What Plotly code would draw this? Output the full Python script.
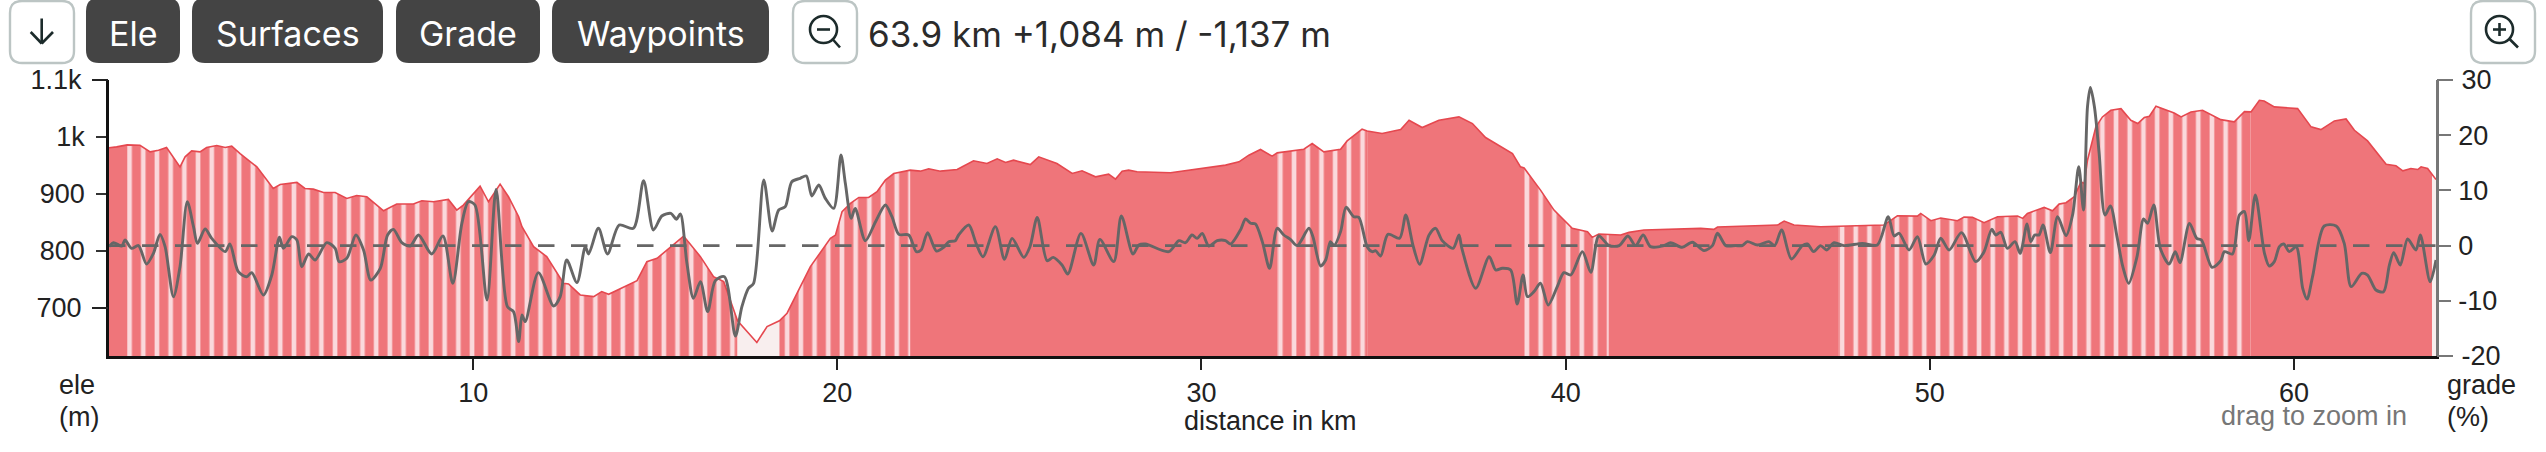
#!/usr/bin/env python3
"""Elevation profile with surface bands and grade line, route toolbar on top."""
import numpy as np
import plotly.graph_objects as go

FIG_W, FIG_H = 2546, 452
M_L, M_R, M_T, M_B = 109, 110, 80, 96

ELE_KM = [
    0, 0.21, 0.5, 0.85, 1.13, 1.36, 1.58, 1.72, 1.95, 2.09,
    2.27, 2.5, 2.68, 2.96, 3.19, 3.37, 3.6, 4.06, 4.33, 4.51,
    4.7, 5.16, 5.38, 5.61, 5.89, 6.21, 6.53, 6.8, 7.08, 7.54,
    7.9, 8.36, 8.59, 8.91, 9.32, 9.55, 9.73, 10.19, 10.42, 10.74,
    10.97, 11.25, 11.34, 11.66, 12.02, 12.48, 12.62, 12.94, 13.31, 13.53,
    13.72, 14.5, 14.77, 15.05, 15.78, 16.24, 16.6, 16.88, 17.26, 17.79,
    18.07, 18.41, 18.62, 19.26, 19.81, 19.95, 20.13, 20.36, 20.59, 20.86,
    21.09, 21.32, 21.55, 22.0, 22.28, 22.51, 22.83, 23.29, 23.74, 24.11,
    24.39, 24.62, 24.84, 25.3, 25.53, 26.03, 26.45, 26.72, 27.09, 27.45,
    27.64, 27.82, 28.0, 28.23, 29.15, 29.97, 30.66, 31.03, 31.3, 31.62,
    31.94, 32.08, 32.81, 33.04, 33.36, 33.82, 34.0, 34.41, 34.55, 34.96,
    35.47, 35.7, 36.06, 36.52, 37.07, 37.44, 37.8, 38.54, 38.76, 38.86,
    39.31, 39.68, 40.18, 40.6, 40.73, 40.91, 41.18, 41.51, 41.74, 42.15,
    43.71, 44.07, 44.17, 45.82, 46.0, 46.27, 47.0, 47.5, 48.74, 49.11,
    49.66, 49.75, 50.03, 50.3, 50.76, 50.94, 51.17, 51.49, 51.86, 52.41,
    52.55, 52.68, 53.14, 53.37, 53.55, 53.74, 53.97, 54.15, 54.24, 54.33,
    54.56, 54.74, 54.97, 55.25, 55.52, 55.71, 55.89, 56.03, 56.21, 56.71,
    56.9, 57.17, 57.49, 57.99, 58.36, 58.64, 58.82, 59.05, 59.18, 59.46,
    60.1, 60.47, 60.74, 61.11, 61.43, 61.66, 62.02, 62.53, 62.8, 62.99,
    63.21, 63.4, 63.49, 63.67, 63.79, 63.9,
]
ELE_M = [
    981, 982.5, 986, 985.4, 973.7, 976.7, 981.3, 967.9, 947.4, 965,
    975.5, 973.7, 981.3, 984.9, 981.3, 983.7, 970.8, 947.4, 924, 909.4,
    916.4, 920, 909.4, 908.2, 902.4, 902.4, 891.9, 897.1, 894.8, 870.2,
    882, 882, 887.8, 886, 890.2, 871.4, 880.2, 913.5, 886, 917,
    894.8, 859.7, 842.2, 807.1, 789.6, 742.8, 741.6, 722.3, 719.4, 728.2,
    723.5, 747.5, 780.8, 786.6, 825.8, 789.6, 754.5, 745.7, 677, 638.7,
    666.7, 677, 690.2, 772, 821.7, 827.5, 868.5, 883.1, 893.6, 893.6,
    903.6, 924, 935.7, 941.6, 939.8, 943.9, 939.8, 942.8, 958, 953.3,
    961.5, 955, 959.1, 951.5, 965, 953.3, 935.7, 940.4, 929.9, 934.6,
    925.8, 939.8, 941.6, 938.7, 936.9, 944.5, 950.4, 956.2, 967.9, 977.9,
    966.2, 972, 978.4, 988.4, 973.8, 978.4, 993, 1013.5, 1010.5, 1005.9,
    1012.9, 1029.3, 1016.4, 1029.3, 1035.2, 1023.5, 998.9, 970.8, 947.4, 945.3,
    906.5, 871.4, 839.3, 833.4, 823.5, 829.3, 829, 827.6, 832.2, 836.3,
    839.3, 837.5, 841.6, 845.1, 852.1, 845.1, 842.2, 842.9, 845.1, 861.5,
    860.9, 865.6, 852.7, 857.4, 852.7, 859.1, 858.6, 849.2, 859.7, 860.9,
    856.8, 865.6, 876, 870.2, 881.9, 884.3, 894.8, 921.1, 918.2, 959.1,
    1017.6, 1035.1, 1046.8, 1049.7, 1029.3, 1023.4, 1034, 1036.3, 1053.8, 1042.1,
    1035.1, 1043.9, 1046.8, 1030.4, 1026.4, 1044.5, 1043.9, 1064.4, 1063.2, 1052.7,
    1049.7, 1017.6, 1012.9, 1028.1, 1031.6, 1011.7, 993, 952.1, 949.2, 940.4,
    944.5, 942.7, 947.4, 944.5, 933.6, 925,
]

GRADE_KM = [
    0, 0.12, 0.35, 0.44, 0.62, 0.81, 1.03, 1.22, 1.4, 1.54,
    1.77, 1.95, 2.15, 2.32, 2.43, 2.64, 2.82, 3.19, 3.32, 3.55,
    3.78, 3.92, 4.24, 4.47, 4.68, 4.79, 5.02, 5.16, 5.29, 5.48,
    5.66, 5.98, 6.21, 6.32, 6.53, 6.78, 6.99, 7.19, 7.45, 7.65,
    7.81, 8.04, 8.27, 8.5, 8.86, 9.17, 9.44, 9.69, 9.87, 10.05,
    10.38, 10.63, 10.94, 11.11, 11.25, 11.34, 11.43, 11.79, 12.21, 12.39,
    12.57, 12.85, 13.08, 13.17, 13.44, 13.69, 14.01, 14.4, 14.68, 14.95,
    15.18, 15.43, 15.58, 15.69, 15.87, 16.05, 16.24, 16.44, 16.65, 16.9,
    17.2, 17.38, 17.56, 17.7, 17.98, 18.21, 18.39, 18.57, 18.75, 18.98,
    19.15, 19.3, 19.49, 19.67, 19.9, 20.1, 20.22, 20.38, 20.49, 20.77,
    21.05, 21.32, 21.5, 21.69, 21.96, 22.17, 22.3, 22.48, 22.72, 22.92,
    23.06, 23.24, 23.33, 23.61, 23.81, 24.0, 24.34, 24.59, 24.8, 25.12,
    25.29, 25.49, 25.76, 25.93, 26.17, 26.33, 26.69, 27.04, 27.21, 27.59,
    27.8, 28.12, 28.28, 28.46, 29.1, 29.38, 29.56, 29.74, 29.88, 30.02,
    30.2, 30.43, 30.66, 30.8, 31.07, 31.21, 31.35, 31.48, 31.67, 31.87,
    32.08, 32.26, 32.44, 32.63, 32.95, 33.06, 33.27, 33.41, 33.54, 33.64,
    33.82, 33.97, 34.18, 34.32, 34.55, 34.69, 34.78, 34.92, 35.12, 35.44,
    35.61, 35.81, 35.99, 36.25, 36.43, 36.61, 36.91, 37.07, 37.15, 37.53,
    37.9, 38.08, 38.26, 38.49, 38.67, 38.83, 38.95, 39.13, 39.31, 39.52,
    39.77, 39.95, 40.14, 40.46, 40.69, 40.91, 41.19, 41.47, 41.71, 41.92,
    42.13, 42.33, 42.7, 42.88, 43.2, 43.48, 43.8, 44.03, 44.17, 44.4,
    44.67, 44.85, 44.99, 45.27, 45.58, 45.74, 45.93, 46.2, 46.5, 46.64,
    46.81, 47.0, 47.17, 47.37, 47.64, 48.15, 48.56, 48.86, 49.02, 49.16,
    49.43, 49.66, 49.89, 50.12, 50.3, 50.53, 50.87, 51.26, 51.49, 51.7,
    51.81, 51.95, 52.13, 52.34, 52.48, 52.67, 52.77, 52.88, 53.0, 53.11,
    53.31, 53.51, 53.74, 53.92, 54.09, 54.22, 54.33, 54.41, 54.52, 54.65,
    54.81, 54.96, 55.14, 55.3, 55.46, 55.69, 55.87, 55.98, 56.15, 56.33,
    56.57, 56.74, 56.87, 57.13, 57.33, 57.46, 57.75, 57.99, 58.09, 58.31,
    58.5, 58.64, 58.76, 58.94, 59.19, 59.32, 59.46, 59.6, 59.72, 59.87,
    60.06, 60.24, 60.36, 60.51, 60.83, 61.16, 61.38, 61.57, 61.86, 62.02,
    62.25, 62.46, 62.62, 62.74, 62.92, 63.12, 63.35, 63.47, 63.74, 63.9,
]
GRADE_PCT = [
    -0.2, 0.53, -0.08, 1.01, -0.5, 0, -3.34, -1.4, 2.04, -0.2,
    -9.26, -3.82, 7.96, 3.43, 0.41, 3, 1.31, -1.1, 0.29, -4.73,
    -5.63, -4.9, -8.95, -5.33, 1.5, -0.5, 1.62, 1, -3.82, -1.53,
    -2.61, 0.53, -0.5, -2.91, -2.31, 1.92, -0.8, -6.24, -4.12, 1.92,
    2.94, 0.53, -0.08, 1.92, -1.52, 1.74, -6.83, 4.03, 7.96, 7.36,
    -9.85, 10.19, -11.06, -11.97, -17.4, -12.57, -13.78, -4.9, -10.94, -9.25,
    -2.61, -6.71, -0.19, -1.52, 3.13, -1.52, 3.73, 3.13, 11.76, 2.83,
    5.36, 5.85, 4.76, 5.73, -3.21, -9.55, -6.53, -11.97, -6.35, -5.63,
    -16.38, -11.06, -7.74, -6.83, 11.89, 2.65, 6.45, 7.05, 11.58, 12.19,
    12.61, 8.99, 10.98, 8.56, 6.75, 16.41, 11.28, 4.94, 6.75, 0.89,
    4.33, 7.35, 5.24, 2.04, 1.92, -1.1, -0.8, 2.34, -0.98, -0.32,
    0.71, 0.89, 1.92, 3.73, 0.41, -2.01, 3.43, -2.49, 1.31, -2.13,
    -0.2, 5.12, -2.73, -2.13, -3.52, -5.15, 2.22, -3.52, 1.13, -2.91,
    5.36, -1.53, 0.11, 0.29, -1.1, 0.89, 0.53, 1.92, 1.31, 2.22,
    -0.08, 0.89, 0.9, 0.29, 2.83, 4.82, 4.04, 3.92, 0.72, -4.11,
    3.13, 1.92, 1.14, 0, 3.13, 1.62, -3.69, -2.61, 0.72, 0,
    2.53, 6.94, 5.24, 5.12, -0.19, -1.1, -0.92, -1.88, 2.04, 1.32,
    5.55, 0, -3.39, 1.92, 3.13, 0.9, -0.49, 1.92, -0.49, -7.74,
    -2, -4.42, -4.11, -4.42, -10.58, -5.32, -9.25, -8.34, -6.83, -10.76,
    -7.44, -4.9, -5.32, -1.1, -4.84, 1.74, 0, 0, 1.74, 0,
    1.92, -0.19, 0, 0.54, -0.31, 0.6, -0.91, 0, 2.23, 0,
    0, 0, 0.72, 0.11, 0.72, 0, 2.83, -2.42, 0, 0.29,
    -1.1, 0, -0.79, 0.53, 0, 0.41, 0.11, 5.24, 1.74, 2.23,
    -0.79, 1.62, -3.33, -1.7, 1.32, -0.79, 2.35, -2.91, -1.1, 2.95,
    1.92, 2.41, -0.49, 0.72, -1.4, 3.92, 0.71, 1.92, 1.92, 3.73,
    -1.28, 5.24, 1.8, 5.54, 14.3, 6.45, 25.17, 28.67, 25.17, 16.71,
    5.54, 7.17, 1.62, -3.82, -6.84, -2, 4.82, 4.03, 7.35, -0.5,
    -3.33, -1.1, -3.09, 4.03, 1.31, 1.01, -3.94, -2.73, -1.1, -1.52,
    5.54, 6.15, 0.89, 9.17, -1.4, -3.7, -2.91, -0.19, 0.29, -1.1,
    -0.19, -7.74, -9.68, -5.63, 3.55, 3.55, 0.41, -7.44, -5.03, -5.33,
    -8.05, -8.35, -3.52, -1.28, -3.52, 1.19, -0.8, 1.92, -6.54, -2.61,
]

# surface runs along the route
SURFACE_START = [0, 0.5, 17.26, 18.41, 22.0, 32.08, 34.55, 38.86, 41.18, 47.5, 58.82, 63.79]
SURFACE_END = [0.5, 17.26, 18.41, 22.0, 32.08, 34.55, 38.86, 41.18, 47.5, 58.82, 63.79, 63.9]
SURFACE_KIND = ['paved', 'mixed', 'unknown', 'mixed', 'paved', 'mixed', 'paved', 'mixed',
                'paved', 'mixed', 'paved', 'unknown']

X_TICKS = [10, 20, 30, 40, 50, 60]
ELE_TICKS = [800, 900, 1000]
ELE_TICK_TEXT = ['800', '900', '1k']
ELE_OUTER_TICKS = [700, 1100]
ELE_OUTER_TEXT = ['700', '1.1k']
GRADE_TICKS = [-10, 0, 10, 20]
GRADE_TICK_TEXT = ['-10', '0', '10', '20']
GRADE_OUTER_TICKS = [-20, 30]
GRADE_OUTER_TEXT = ['-20', '30']
BUTTON_LABELS = ['Ele', 'Surfaces', 'Grade', 'Waypoints']
ROUTE_SUMMARY = '63.9 km +1,084 m / -1,137 m'

RED = '#ef757a'
RED_LINE = '#e5484f'
STRIPE = '#fad9dc'
PALE = '#f8eeee'
GREY = '#666666'
AXIS_GREY = '#777777'
INK = '#222222'
ICON = '#1c2b2b'
BTN_DARK = '#444444'
BTN_EDGE = '#bcc5c4'
LABEL_FONT = 'Liberation Sans, Arial, sans-serif'
UI_FONT = 'Inter, sans-serif'

ELE_RANGE = [615, 1100]
GRADE_RANGE = [-20, 30]
KM_RANGE = [0, 63.9]


def px(x):
    return (x - M_L) / (FIG_W - M_L - M_R)


def py(y):
    return 1 - (y - M_T) / (FIG_H - M_T - M_B)


def round_rect(x0, y0, x1, y1, r):
    """Rounded rectangle as a paper-referenced svg path, pixel input."""
    pts = [
        ('M', x0 + r, y0), ('L', x1 - r, y0), ('Q', x1, y0, x1, y0 + r),
        ('L', x1, y1 - r), ('Q', x1, y1, x1 - r, y1), ('L', x0 + r, y1),
        ('Q', x0, y1, x0, y1 - r), ('L', x0, y0 + r), ('Q', x0, y0, x0 + r, y0),
    ]
    parts = []
    for p in pts:
        vals = []
        for i in range(1, len(p), 2):
            vals.append(f'{px(p[i]):.6f},{py(p[i + 1]):.6f}')
        parts.append(p[0] + ' '.join(vals))
    return ' '.join(parts) + ' Z'


def pline(x0, y0, x1, y1, color=ICON, width=2.6):
    return dict(type='line', xref='paper', yref='paper', x0=px(x0), y0=py(y0),
                x1=px(x1), y1=py(y1), line=dict(color=color, width=width))


def label(x, y, text, size=27, color=INK, font=LABEL_FONT, anchor='left'):
    return dict(xref='paper', yref='paper', x=px(x), y=py(y), text=text, showarrow=False,
                xanchor=anchor, yanchor='middle', font=dict(family=font, size=size, color=color))


km = np.array(ELE_KM)
ele = np.array(ELE_M)

fig = go.Figure()

for start, end, kind in zip(SURFACE_START, SURFACE_END, SURFACE_KIND):
    keep = (km >= start) & (km <= end)
    style = dict(x=km[keep], y=ele[keep], mode='none', fill='tozeroy', hoverinfo='skip',
                 showlegend=False)
    if kind == 'mixed':
        fig.add_trace(go.Scatter(**style, fillcolor=RED, fillpattern=dict(
            shape='|', size=13.7, solidity=0.34, bgcolor=RED, fgcolor=STRIPE, fgopacity=1)))
    elif kind == 'paved':
        fig.add_trace(go.Scatter(**style, fillcolor=RED))
    else:
        fig.add_trace(go.Scatter(**style, fillcolor=PALE))

fig.add_trace(go.Scatter(x=km, y=ele, mode='lines', line=dict(color=RED_LINE, width=1.6),
                         name='ele', showlegend=False))
fig.add_trace(go.Scatter(x=KM_RANGE, y=[0, 0], yaxis='y2', mode='lines', hoverinfo='skip',
                         line=dict(color=GREY, width=2.6, dash='16.5px,16.5px'), showlegend=False))
fig.add_trace(go.Scatter(x=GRADE_KM, y=GRADE_PCT, yaxis='y2', mode='lines', name='grade',
                         line=dict(color=GREY, width=2.9, shape='spline', smoothing=0.8),
                         showlegend=False))
# invisible carriers so the longer outer ticks get their own axes
fig.add_trace(go.Scatter(x=[0], y=[ELE_RANGE[0]], yaxis='y3', mode='lines', line=dict(width=0),
                         hoverinfo='skip', showlegend=False))
fig.add_trace(go.Scatter(x=[0], y=[GRADE_RANGE[0]], yaxis='y4', mode='lines', line=dict(width=0),
                         hoverinfo='skip', showlegend=False))

tickfont = dict(family=LABEL_FONT, size=27, color=INK)
shapes = []
annotations = []

# toolbar
shapes.append(dict(type='path', xref='paper', yref='paper', path=round_rect(10, 1, 74, 63, 12),
                   fillcolor='white', line=dict(color=BTN_EDGE, width=2.4)))
shapes.append(pline(41.7, 18.5, 41.7, 43.5))
shapes.append(pline(30.7, 32, 41.7, 43.5))
shapes.append(pline(53, 32, 41.7, 43.5))

btn_edges = [(86, 180), (192, 383), (396, 540), (552, 769)]
for (x0, x1), text in zip(btn_edges, BUTTON_LABELS):
    shapes.append(dict(type='path', xref='paper', yref='paper', path=round_rect(x0, -2, x1, 63, 13),
                       fillcolor=BTN_DARK, line=dict(width=0)))
    annotations.append(label((x0 + x1) / 2, 34, text, size=34, color='white', font=UI_FONT,
                             anchor='center'))

shapes.append(dict(type='path', xref='paper', yref='paper', path=round_rect(793, 1, 857, 63, 12),
                   fillcolor='white', line=dict(color=BTN_EDGE, width=2.4)))
shapes.append(dict(type='circle', xref='paper', yref='paper', x0=px(810), x1=px(837), y0=py(16), y1=py(43),
                   line=dict(color=ICON, width=2.6)))
shapes.append(pline(817, 29.5, 830, 29.5))
shapes.append(pline(832, 38.5, 840, 47.5))

annotations.append(label(866, 34, ROUTE_SUMMARY, size=35, color='#2b2b2b', font=UI_FONT))

shapes.append(dict(type='path', xref='paper', yref='paper', path=round_rect(2471, 1, 2535, 63, 12),
                   fillcolor='white', line=dict(color=BTN_EDGE, width=2.4)))
shapes.append(dict(type='circle', xref='paper', yref='paper', x0=px(2486), x1=px(2513), y0=py(16), y1=py(43),
                   line=dict(color=ICON, width=2.6)))
shapes.append(pline(2493, 29.5, 2506, 29.5))
shapes.append(pline(2499.5, 23, 2499.5, 36))
shapes.append(pline(2509, 38.5, 2518, 47.5))

# axis captions
annotations += [
    label(57, 385, 'ele'),
    label(57, 417, '(m)'),
    label(2445, 385, 'grade'),
    label(2445, 417, '(%)'),
    label(1270, 421, 'distance in km', anchor='center'),
    label(2409, 416, 'drag to zoom in', color=AXIS_GREY, anchor='right'),
]

fig.update_layout(
    width=FIG_W, height=FIG_H,
    margin=dict(l=M_L, r=M_R, t=M_T, b=M_B, pad=0),
    paper_bgcolor='white', plot_bgcolor='white',
    showlegend=False, hovermode='x',
    shapes=shapes, annotations=annotations,
    xaxis=dict(range=KM_RANGE, tickvals=X_TICKS, ticks='outside', ticklen=11, tickwidth=2.4,
               tickcolor='#222222', showline=True, linecolor='#111111', linewidth=2.6,
               showgrid=False, zeroline=False, tickfont=tickfont, ticklabelstandoff=0),
    yaxis=dict(range=ELE_RANGE, tickvals=ELE_TICKS, ticktext=ELE_TICK_TEXT, ticks='outside',
               ticklen=10, tickwidth=2.4, tickcolor='#333333', showline=True, linecolor='#111111',
               linewidth=2.6, showgrid=False, zeroline=False, tickfont=tickfont, ticklabelstandoff=6),
    yaxis2=dict(range=GRADE_RANGE, side='right', overlaying='y', tickvals=GRADE_TICKS,
                ticktext=GRADE_TICK_TEXT, ticks='outside', ticklen=12, tickwidth=2.4,
                tickcolor=AXIS_GREY, showline=True, linecolor=AXIS_GREY, linewidth=2.6,
                showgrid=False, zeroline=False, tickfont=tickfont, ticklabelstandoff=2),
    yaxis3=dict(range=ELE_RANGE, overlaying='y', tickvals=ELE_OUTER_TICKS, ticktext=ELE_OUTER_TEXT,
                ticks='outside', ticklen=16, tickwidth=2.4, tickcolor='#222222', showline=False,
                showgrid=False, zeroline=False, tickfont=tickfont, ticklabelstandoff=5),
    yaxis4=dict(range=GRADE_RANGE, side='right', overlaying='y', tickvals=GRADE_OUTER_TICKS,
                ticktext=GRADE_OUTER_TEXT, ticks='outside', ticklen=16, tickwidth=2.4,
                tickcolor=AXIS_GREY, showline=False, showgrid=False, zeroline=False,
                tickfont=tickfont, ticklabelstandoff=3),
)

fig.write_html("out.html", config=dict(displayModeBar=False),
               post_script="document.body.style.margin='0';")
